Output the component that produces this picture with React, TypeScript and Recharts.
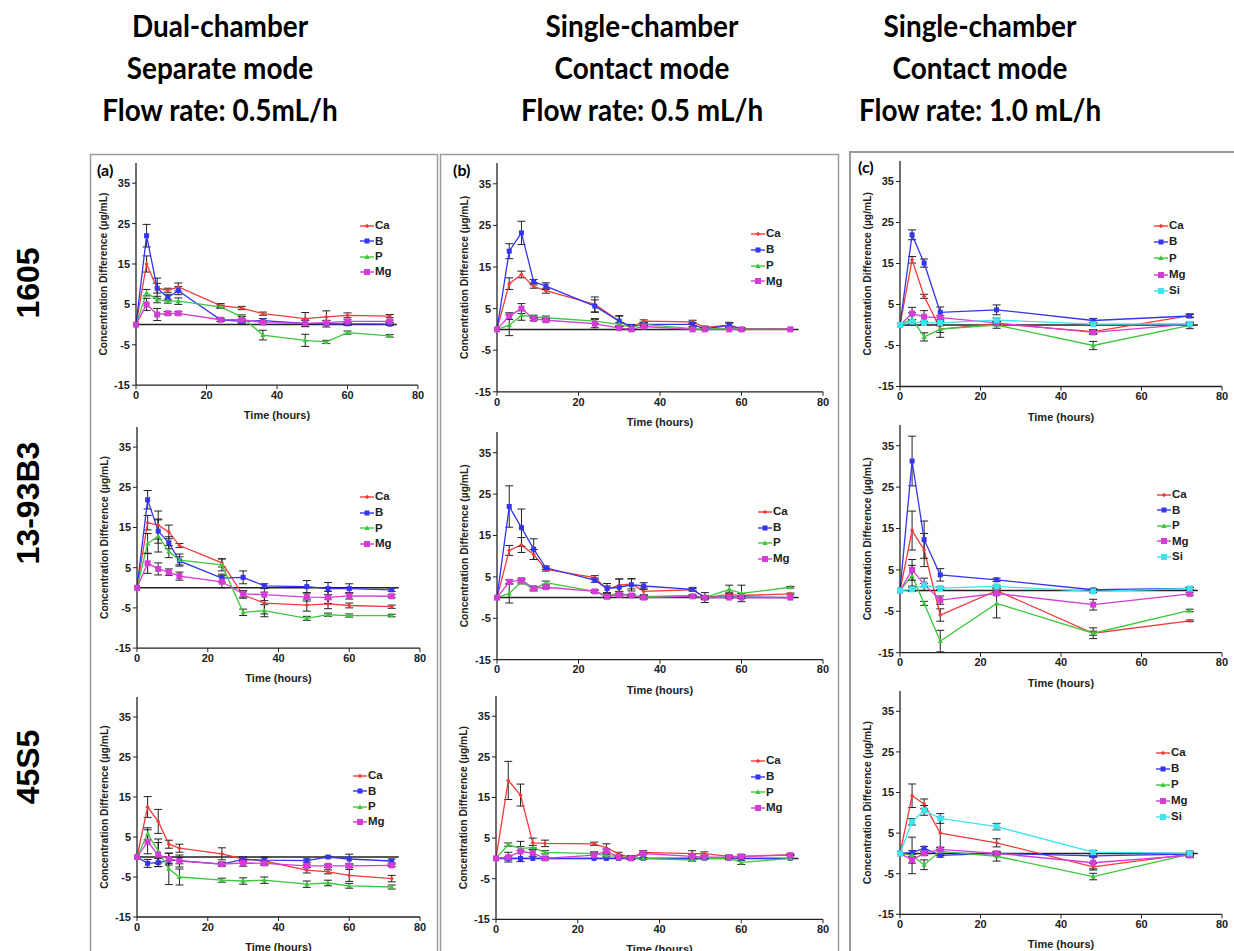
import React from 'react';
import { LineChart, Line, XAxis, YAxis, ErrorBar, ReferenceLine, Legend } from 'recharts';

// sampling times (hours)
const hoursDual = [0, 3, 6, 9, 12, 24, 30, 36, 48, 54, 60, 72];
const hoursSingleB1 = [0, 3, 6, 9, 12, 24, 30, 33, 36, 48, 51, 57, 60, 72];
const hoursSingle = [0, 3, 6, 9, 12, 24, 27, 30, 33, 36, 48, 51, 57, 60, 72];
const hoursFast = [0, 3, 6, 10, 24, 48, 72];

const yTicks = [-15, -5, 5, 15, 25, 35];
const xTicks = [0, 20, 40, 60, 80];

// (a) 1605, dual chamber
const a1Ca = [0, 15, 9, 8.5, 9.3, 4.7, 4.1, 2.7, 1.5, 1.9, 2.3, 2.1];
const a1CaErr = [0, 2, 1.2, 0.5, 1, 0.5, 0.4, 0.4, 1.5, 1.5, 0.6, 0.4];
const a1B = [0, 22, 9, 6.7, 8.4, 1.2, 0.8, 1, 0.3, 0.2, 0.2, 0.1];
const a1BErr = [0, 2.8, 2.5, 0.8, 1, 0.4, 0.4, 0.5, 0.8, 0.8, 0.4, 0.3];
const a1P = [0, 7.9, 6.2, 5.8, 5.8, 4.4, 1.9, -2.6, -3.9, -4.3, -2, -2.8];
const a1PErr = [0, 0.8, 0.8, 0.5, 0.8, 0.4, 0.5, 1.2, 1.5, 0.4, 0.4, 0.3];
const a1Mg = [0, 5, 2.5, 2.8, 2.8, 1.2, 1.2, 0.5, 0.3, 0.5, 0.8, 0.8];
const a1MgErr = [0, 1.5, 1.5, 0.4, 0.4, 0.4, 0.8, 0.4, 0.8, 0.5, 0.4, 0.3];

// (b) 1605, single chamber 0.5 mL/h
const b1Ca = [0, 11, 13.2, 10.3, 9.3, 6, 2, 0.5, 2, 1.8, 0.5, 1, 0.2, 0.1];
const b1CaErr = [0, 1.4, 0.8, 0.4, 0.6, 1.8, 1.2, 0.4, 0.3, 0.4, 0.3, 0.5, 0.2, 0];
const b1B = [0, 18.8, 23.2, 11.5, 10.4, 5.6, 2, 0.7, 1.2, 1.2, 0.1, 1, 0, 0];
const b1BErr = [0, 1.8, 2.8, 0.5, 0.8, 1.5, 1.3, 0.5, 0.4, 0.5, 0.2, 0.7, 0.2, 0];
const b1P = [0, 1, 3.4, 3, 2.8, 2, 1.2, 0.5, 1.2, 0.2, 0.1, 0.2, 0.1, 0];
const b1PErr = [0, 2.5, 1.2, 0.4, 0.4, 0.6, 0.4, 0.3, 0.3, 0.2, 0.2, 0.2, 0.2, 0];
const b1Mg = [0, 3.2, 5, 2.5, 2.2, 1.4, 0.3, 0, 0.7, 0, 0, 0, 0, 0];
const b1MgErr = [0, 0.8, 1.2, 0.4, 0.4, 1, 0.3, 0.2, 0.3, 0, 0, 0, 0, 0];

// (c) 1605, single chamber 1.0 mL/h
const c1Ca = [0, 15.9, 7, -1, 0.3, -1.6, 2.3];
const c1CaErr = [0, 0.8, 0.5, 2, 0.5, 0.5, 0.4];
const c1B = [0, 22, 15.1, 3.1, 3.7, 1.1, 2.2];
const c1BErr = [0, 1.2, 1, 1.3, 1.2, 0.5, 0.4];
const c1P = [0, 1.5, -2.9, -1, 0, -5, -0.1];
const c1PErr = [0, 1.5, 1, 0.8, 0.8, 1, 0.8];
const c1Mg = [0, 2.8, 2, 1.8, 0.5, -1.8, 0.2];
const c1MgErr = [0, 1.5, 1.5, 0.5, 0.4, 0.5, 0.3];
const c1Si = [0, 0.8, 0.5, 0.5, 1.2, 0.2, 0.3];
const c1SiErr = [0, 0.5, 0.4, 0.3, 0.5, 0.3, 0.3];

// 13-93B3
const a2Ca = [0, 16.2, 15.6, 13.9, 10.5, 6.2, -1.8, -3.8, -4.3, -4, -4.4, -4.7];
const a2CaErr = [0, 1.8, 3.5, 1.7, 0.5, 1, 0.8, 2.7, 1.5, 1.2, 0.6, 0.4];
const a2B = [0, 21.9, 14.1, 11.2, 6.7, 2.4, 2.6, 0.5, 0.3, -0.2, -0.2, -0.5];
const a2BErr = [0, 2.3, 3, 1.5, 1, 1, 1.6, 0.5, 1.5, 1.5, 1.2, 0.4];
const a2P = [0, 11, 12.9, 9, 6.9, 5.7, -6.1, -5.7, -7.6, -6.7, -6.9, -6.9];
const a2PErr = [0, 2.5, 4, 1.5, 1.5, 1.5, 0.8, 1.5, 0.5, 0.4, 0.4, 0.3];
const a2Mg = [0, 6.1, 4.7, 3.9, 2.9, 1.5, -1.5, -1.7, -2.3, -2.4, -2, -2.1];
const a2MgErr = [0, 2.5, 1.5, 0.8, 1, 1.5, 0.8, 1.5, 1, 1.5, 0.8, 0.4];

const b2Ca = [0, 11.4, 12.7, 10.4, 6.8, 4.8, 2, 3, 3.3, 1.5, 1.9, 0, 0.8, 0.5, 0.9];
const b2CaErr = [0, 1.2, 1.8, 1.2, 0.4, 0.5, 0.8, 1.5, 1.2, 0.8, 0.3, 0.5, 0.5, 0.5, 0.2];
const b2B = [0, 22, 16.9, 11.7, 7.2, 4.2, 2.2, 2.5, 3.1, 2.8, 2, 0, 0.1, 0.1, 0];
const b2BErr = [0, 5, 4.5, 2.5, 0.4, 0.5, 1.2, 2, 1.5, 0.8, 0.4, 1.2, 0.3, 0.3, 0];
const b2P = [0, 1, 3.8, 2, 3.6, 1.5, 0.5, 1, 0.5, 0.2, 0.5, 0, 2, 1, 2.5];
const b2PErr = [0, 2.3, 0.5, 0.4, 0.4, 0.3, 0.3, 0.4, 0.3, 0.3, 0.2, 0.3, 1, 2, 0.2];
const b2Mg = [0, 3.8, 4.2, 2.3, 2.5, 1.5, 0.2, 0.7, 0.5, 0, 0.3, 0, 0, 0, 0];
const b2MgErr = [0, 0.5, 0.5, 0.4, 0.3, 0.3, 0.3, 0.3, 0.3, 0.4, 0.2, 0.2, 0.2, 0.2, 0];

const c2Ca = [0, 14.5, 9.8, -5.9, 0, -10.3, -7.3];
const c2CaErr = [0, 4.7, 4, 1.5, 0.5, 0.5, 0.2];
const c2B = [0, 31.3, 12.3, 3.8, 2.6, 0.2, 0.5];
const c2BErr = [0, 6, 4.5, 1.5, 0.4, 0.3, 0.3];
const c2P = [0, 3.6, -3.1, -12.2, -3.1, -10.3, -4.8];
const c2PErr = [0, 2.5, 0.5, 2.6, 3.5, 1.3, 0.3];
const c2Mg = [0, 5, 1.5, -2.3, -0.7, -3.4, -0.8];
const c2MgErr = [0, 2.5, 1.5, 1, 0.4, 1.3, 0.3];
const c2Si = [0, 0.3, 1.3, 0.6, 1, -0.2, 0.5];
const c2SiErr = [0, 0.5, 0.4, 0.3, 0.3, 0.3, 0.3];

// 45S5
const a3Ca = [0, 12.5, 8.9, 3.2, 2.2, 0.8, -0.5, -1, -3.3, -3.7, -4.6, -5.4];
const a3CaErr = [0, 2.6, 3, 1, 1, 1.5, 0.5, 0.8, 0.7, 0.5, 1.5, 0.8];
const a3B = [0, -1.6, -1.4, -0.8, -0.9, -1.8, -0.6, -0.8, -0.9, 0, -0.5, -1];
const a3BErr = [0, 1, 1, 0.8, 0.8, 0.5, 0.5, 0.8, 0.4, 0.2, 1.2, 0.5];
const a3P = [0, 5.8, 1.5, -3, -5, -5.8, -6, -5.8, -6.8, -6.5, -7.2, -7.5];
const a3PErr = [0, 1.5, 3, 3.9, 2, 0.5, 0.8, 0.8, 0.8, 0.7, 0.6, 0.5];
const a3Mg = [0, 3.8, 0.6, -0.5, -1, -1.8, -1.5, -1.6, -2.2, -2.2, -2.2, -2.1];
const a3MgErr = [0, 3, 3, 1.5, 1.5, 0.4, 0.8, 0.5, 0.4, 0.4, 0.4, 0.3];

const b3Ca = [0, 19.2, 15.6, 3.8, 3.7, 3.6, 2.6, 1.1, 0.2, 1.5, 1.2, 1.2, 0.5, 0.5, 0.9];
const b3CaErr = [0, 4.7, 2.7, 1.2, 0.8, 0.4, 1, 0.4, 0.5, 0.4, 0.7, 0.4, 0.3, 0.4, 0.2];
const b3B = [0, 0, 0, 0, 0, 0, 0, 0, 0, 0, 0, 0, 0, 0, 0];
const b3BErr = [0, 0.4, 0, 0, 0, 0, 0, 0, 0, 0, 0, 0, 0, 0, 0];
const b3P = [0, 3.4, 2.4, 2.7, 1.5, 1.2, 0.7, 0.5, 0.2, 0, -0.4, 0, 0, -1, 0];
const b3PErr = [0, 0.4, 0.5, 0.5, 0.4, 0.3, 0.3, 0.3, 0.3, 0.2, 0.3, 0.2, 0.3, 0.5, 0];
const b3Mg = [0, 0.3, 1.7, 1.3, 0, 0.8, 1.8, 0.3, 0, 1.2, 0.5, 0.3, 0.3, 0.5, 0.8];
const b3MgErr = [0, 1.2, 2.5, 0.8, 0.4, 0.8, 0.5, 0.3, 0.3, 0.3, 0.4, 0.3, 0.3, 0.4, 0.2];

const c3Ca = [0, 14.2, 12.2, 5, 2.6, -3.3, -0.2];
const c3CaErr = [0, 2.9, 1.2, 4, 1, 0.8, 0.3];
const c3B = [0, 0.2, 1.3, -0.5, 0, -0.6, -0.2];
const c3BErr = [0, 0.5, 0.4, 0.4, 0.3, 0.3, 0.3];
const c3P = [0, -0.5, -2.8, 0.5, -0.7, -5.7, -0.2];
const c3PErr = [0, 4.5, 1.2, 1, 1.2, 0.8, 0.8];
const c3Mg = [0, -1.6, 0, 1, 0, -2.3, -0.5];
const c3MgErr = [0, 0.8, 0.5, 0.4, 0.4, 1.5, 0.3];
const c3Si = [0, 7.8, 10.6, 8.6, 6.6, 0.3, 0];
const c3SiErr = [0, 0.8, 1.2, 1.2, 0.8, 0.4, 0.2];

const STYLE: Record<string, { color: string; shape: string }> = {
  Ca: { color: '#f23b3b', shape: 'diamond' },
  B: { color: '#3535f0', shape: 'square' },
  P: { color: '#3cc83c', shape: 'triangle' },
  Mg: { color: '#d53cd5', shape: 'bigsquare' },
  Si: { color: '#3ce4ee', shape: 'bigsquare' },
};

type Series = { key: string; values: number[]; errors: number[] };
const s = (key: string, values: number[], errors: number[]): Series => ({ key, values, errors });

function Marker({ shape, x, y, color }: { shape: string; x: number; y: number; color: string }) {
  if (shape === 'diamond') {
    return <path d={`M${x},${y - 2.2}L${x + 2.2},${y}L${x},${y + 2.2}L${x - 2.2},${y}Z`} fill={color} />;
  }
  if (shape === 'triangle') {
    return <path d={`M${x},${y - 2.8}L${x + 2.6},${y + 2}L${x - 2.6},${y + 2}Z`} fill={color} />;
  }
  const h = shape === 'bigsquare' ? 3 : 2.5;
  return <rect x={x - h} y={y - h} width={h * 2} height={h * 2} fill={color} />;
}

const YW = 50;
const XH = 34;
const MT = 8;
const MR = 12;
const MB = 8;
const tickStyle = { fontSize: 11, fontWeight: 700, fill: '#222' };

interface PanelProps {
  hours: number[];
  series: Series[];
  x0: number;
  x80: number;
  y35: number;
  yM15: number;
  legX: number;
  legY: number;
  legGap: number;
}

function Panel({ hours, series, x0, x80, y35, yM15, legX, legY, legGap }: PanelProps) {
  const ppu = (yM15 - y35) / 50;
  const plotTop = y35 - 5 * ppu;
  const plotH = yM15 - plotTop;
  const plotW = x80 - x0;
  const left = x0 - YW;
  const top = plotTop - MT;
  const width = YW + plotW + MR;
  const height = MT + plotH + XH + MB;
  const order = series.map((sr) => sr.key);

  const rows = hours.map((h, i) => {
    const row: Record<string, number> = { hour: h };
    series.forEach((sr) => {
      row[sr.key] = sr.values[i];
      row[sr.key + 'Err'] = sr.errors[i];
    });
    return row;
  });

  const renderLegend = (props: any) => {
    const items = [...(props.payload || [])].sort(
      (a: any, b: any) => order.indexOf(a.dataKey) - order.indexOf(b.dataKey)
    );
    return (
      <div>
        {items.map((entry: any) => {
          const st = STYLE[entry.dataKey];
          return (
            <div key={entry.dataKey} style={{ display: 'flex', alignItems: 'center', height: legGap }}>
              <svg width={14} height={10} style={{ display: 'block' }}>
                <line x1={0} y1={5} x2={14} y2={5} stroke={st.color} strokeWidth={1.4} />
                <Marker shape={st.shape} x={7} y={5} color={st.color} />
              </svg>
              <span style={{ fontSize: 11.5, fontWeight: 700, color: '#222', marginLeft: 1, lineHeight: 1 }}>
                {entry.value}
              </span>
            </div>
          );
        })}
      </div>
    );
  };

  return (
    <div style={{ position: 'absolute', left, top }}>
      <LineChart width={width} height={height} data={rows} margin={{ top: MT, right: MR, bottom: MB, left: 0 }}>
        <XAxis
          dataKey="hour"
          type="number"
          domain={[0, 80]}
          ticks={xTicks}
          height={XH}
          tickSize={4}
          tick={tickStyle}
          axisLine={{ stroke: '#222', strokeWidth: 1.3 }}
          tickLine={{ stroke: '#222' }}
          label={{ value: 'Time (hours)', position: 'insideBottom', offset: 0, style: { fontSize: 11, fontWeight: 700, fill: '#222' } }}
        />
        <YAxis
          type="number"
          domain={[-15, 40]}
          ticks={yTicks}
          width={YW}
          tickSize={4}
          tick={tickStyle}
          axisLine={{ stroke: '#222', strokeWidth: 1.3 }}
          tickLine={{ stroke: '#222' }}
          label={{
            value: 'Concentration Difference (µg/mL)',
            angle: -90,
            position: 'insideLeft',
            offset: 17,
            style: { textAnchor: 'middle', fontSize: 10.3, fontWeight: 700, fill: '#222' },
          }}
        />
        <ReferenceLine
          segment={[{ x: 0, y: 0 }, { x: 74, y: 0 }]}
          stroke="#222"
          strokeWidth={1.5}
        />
        {series.map((sr) => {
          const st = STYLE[sr.key];
          return (
            <Line
              key={sr.key}
              dataKey={sr.key}
              name={sr.key}
              stroke={st.color}
              strokeWidth={1.3}
              isAnimationActive={false}
              activeDot={false}
              dot={(p: any) => <Marker key={`${sr.key}-${p.index}`} shape={st.shape} x={p.cx} y={p.cy} color={st.color} />}
            >
              <ErrorBar dataKey={sr.key + 'Err'} width={4} stroke="#222" strokeWidth={1} />
            </Line>
          );
        })}
        <Legend
          layout="vertical"
          align="center"
          verticalAlign="middle"
          content={renderLegend}
          wrapperStyle={{ left: legX - left, top: legY - top - legGap / 2, width: 'auto' }}
        />
      </LineChart>
    </div>
  );
}

const PANELS: PanelProps[] = [
  { hours: hoursDual, series: [s('Ca', a1Ca, a1CaErr), s('B', a1B, a1BErr), s('P', a1P, a1PErr), s('Mg', a1Mg, a1MgErr)], x0: 136, x80: 418, y35: 183, yM15: 385, legX: 360, legY: 226, legGap: 15.3 },
  { hours: hoursSingleB1, series: [s('Ca', b1Ca, b1CaErr), s('B', b1B, b1BErr), s('P', b1P, b1PErr), s('Mg', b1Mg, b1MgErr)], x0: 497, x80: 823, y35: 184, yM15: 392, legX: 751, legY: 234, legGap: 15.8 },
  { hours: hoursFast, series: [s('Ca', c1Ca, c1CaErr), s('B', c1B, c1BErr), s('P', c1P, c1PErr), s('Mg', c1Mg, c1MgErr), s('Si', c1Si, c1SiErr)], x0: 900, x80: 1222, y35: 181, yM15: 386, legX: 1154, legY: 226, legGap: 16.2 },
  { hours: hoursDual, series: [s('Ca', a2Ca, a2CaErr), s('B', a2B, a2BErr), s('P', a2P, a2PErr), s('Mg', a2Mg, a2MgErr)], x0: 137, x80: 420, y35: 447, yM15: 648, legX: 360, legY: 497, legGap: 15.7 },
  { hours: hoursSingle, series: [s('Ca', b2Ca, b2CaErr), s('B', b2B, b2BErr), s('P', b2P, b2PErr), s('Mg', b2Mg, b2MgErr)], x0: 497, x80: 823, y35: 453, yM15: 660, legX: 758, legY: 512, legGap: 15.6 },
  { hours: hoursFast, series: [s('Ca', c2Ca, c2CaErr), s('B', c2B, c2BErr), s('P', c2P, c2PErr), s('Mg', c2Mg, c2MgErr), s('Si', c2Si, c2SiErr)], x0: 900, x80: 1222, y35: 446, yM15: 653, legX: 1157, legY: 495, legGap: 15.5 },
  { hours: hoursDual, series: [s('Ca', a3Ca, a3CaErr), s('B', a3B, a3BErr), s('P', a3P, a3PErr), s('Mg', a3Mg, a3MgErr)], x0: 137, x80: 420, y35: 717, yM15: 917, legX: 353, legY: 776, legGap: 15.3 },
  { hours: hoursSingle, series: [s('Ca', b3Ca, b3CaErr), s('B', b3B, b3BErr), s('P', b3P, b3PErr), s('Mg', b3Mg, b3MgErr)], x0: 496, x80: 823, y35: 716, yM15: 919, legX: 751, legY: 761, legGap: 15.7 },
  { hours: hoursFast, series: [s('Ca', c3Ca, c3CaErr), s('B', c3B, c3BErr), s('P', c3P, c3PErr), s('Mg', c3Mg, c3MgErr), s('Si', c3Si, c3SiErr)], x0: 900, x80: 1222, y35: 711, yM15: 914, legX: 1156, legY: 753, legGap: 16 },
];

const columnTitles = [
  { x: 220, lines: ['Dual-chamber', 'Separate mode', 'Flow rate: 0.5mL/h'] },
  { x: 642, lines: ['Single-chamber', 'Contact mode', 'Flow rate: 0.5 mL/h'] },
  { x: 980, lines: ['Single-chamber', 'Contact mode', 'Flow rate: 1.0 mL/h'] },
];
const rowLabels = [
  { y: 283, text: '1605' },
  { y: 503, text: '13-93B3' },
  { y: 767, text: '45S5' },
];
const panelTags = [
  { x: 97, y: 176, text: '(a)' },
  { x: 453, y: 176, text: '(b)' },
  { x: 858, y: 173, text: '(c)' },
];

export default function App() {
  return (
    <div
      style={{
        position: 'absolute',
        left: 0,
        top: 0,
        width: 1234,
        height: 951,
        overflow: 'hidden',
        background: '#fff',
        fontFamily: '"Liberation Sans", Arial, sans-serif',
      }}
    >
      <svg width={1234} height={951} style={{ position: 'absolute', left: 0, top: 0 }}>
        <rect x={90.5} y={154.5} width={347} height={820} fill="none" stroke="#9c9c9c" strokeWidth={1.5} />
        <rect x={440.5} y={154.5} width={398} height={820} fill="none" stroke="#9c9c9c" strokeWidth={1.5} />
        <rect x={850} y={152} width={420} height={820} fill="none" stroke="#9c9c9c" strokeWidth={2} />
        {columnTitles.map((c) =>
          c.lines.map((ln, i) => (
            <text
              key={c.x + ln}
              transform={`translate(${c.x}, ${37 + i * 42}) scale(0.9, 1)`}
              textAnchor="middle"
              style={{ fontFamily: 'Lato, "Open Sans", sans-serif', fontWeight: 700, fontSize: 31, fill: '#000' }}
            >
              {ln}
            </text>
          ))
        )}
        {rowLabels.map((r) => (
          <text
            key={r.text}
            x={28}
            y={r.y}
            transform={`rotate(-90, 28, ${r.y})`}
            textAnchor="middle"
            dominantBaseline="central"
            style={{ fontFamily: '"Liberation Sans", Arial, sans-serif', fontWeight: 700, fontSize: 32, fill: '#000' }}
          >
            {r.text}
          </text>
        ))}
        {panelTags.map((t) => (
          <text
            key={t.text}
            x={t.x}
            y={t.y}
            style={{ fontFamily: 'Lato, sans-serif', fontWeight: 700, fontSize: 16, fill: '#000' }}
          >
            {t.text}
          </text>
        ))}
      </svg>
      {PANELS.map((p, i) => (
        <Panel key={i} {...p} />
      ))}
    </div>
  );
}
